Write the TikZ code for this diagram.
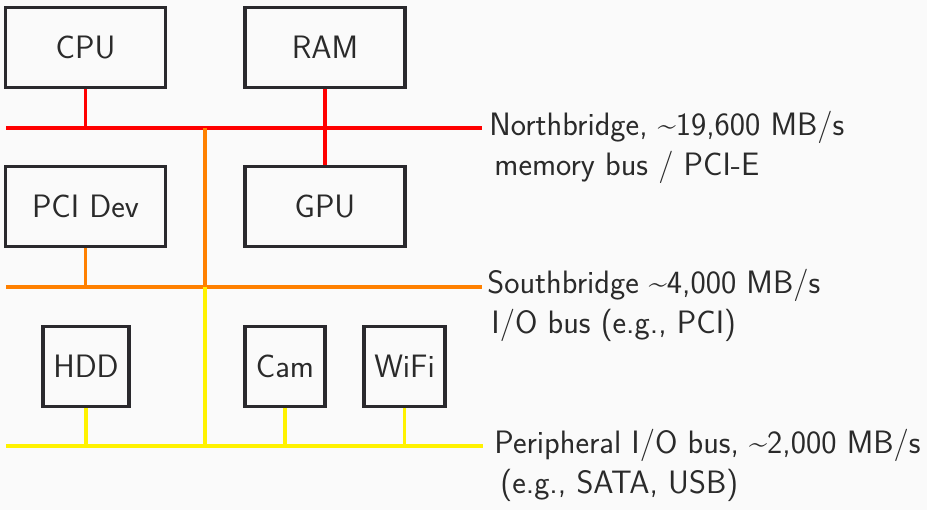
\documentclass[tikz,border=0pt]{standalone}
\usepackage{fix-cm}
\usepackage{tikz}
\definecolor{bgcol}{RGB}{250,250,250}
\definecolor{boxcol}{RGB}{42,41,45}
\definecolor{txtcol}{RGB}{42,42,42}
\definecolor{nbcol}{RGB}{255,0,0}
\definecolor{sbcol}{RGB}{255,128,0}
\definecolor{iocol}{RGB}{255,242,0}
\tikzset{
  hwbox/.style={draw=boxcol,line width=1.75pt,text=txtcol,inner sep=0pt},
  buslabel/.style={anchor=base west,inner sep=0pt,align=left,text=txtcol},
  bus/.style={line width=1.65pt}
}

\begin{document}
\begin{tikzpicture}[x=0.5pt,y=-0.5pt,font=\fontsize{16.2}{19.75}\selectfont\sffamily]
  \fill[bgcol] (0,0) rectangle (927,510);
  \useasboundingbox (0,0) rectangle (927,510);
  % devices
  \node[hwbox,minimum width=80pt,minimum height=40pt] (cpu) at (85.5,47.5) {CPU};
  \node[hwbox,minimum width=80pt,minimum height=40pt] (ram) at (325,47.5) {RAM};
  \node[hwbox,minimum width=80pt,minimum height=40pt] (pcidev) at (85.5,206.5) {PCI Dev};
  \node[hwbox,minimum width=80pt,minimum height=40pt] (gpu) at (325,206.5) {GPU};
  \node[hwbox,minimum width=43pt,minimum height=40pt] (hdd) at (86,366.5) {HDD};
  \node[hwbox,minimum width=40pt,minimum height=40pt] (cam) at (285,366.5) {Cam};
  \node[hwbox,minimum width=40.5pt,minimum height=40pt] (wifi) at (404.5,366.5) {WiFi};
  % bus ends
  \coordinate (nbw) at (6,128);
  \coordinate (nbe) at (482,128);
  \coordinate (sbw) at (6,287);
  \coordinate (sbe) at (482,287);
  \coordinate (iow) at (6,446);
  \coordinate (ioe) at (483,446);
  \coordinate (bridge) at (205,128);
  % buses
  \draw[bus,nbcol] (nbw) -- (nbe);
  \draw[bus,sbcol] (sbw) -- (sbe);
  \draw[bus,iocol] (iow) -- (ioe);
  \draw[bus,sbcol] (bridge) -- (bridge |- sbw);
  \draw[bus,iocol] (bridge |- sbw) -- (bridge |- iow);
  % taps
  \draw[bus,nbcol] (cpu.south) -- (cpu.south |- nbw);
  \draw[bus,nbcol] (ram.south) -- (gpu.north);
  \draw[bus,sbcol] (pcidev.south) -- (pcidev.south |- sbw);
  \draw[bus,iocol] (hdd.south) -- (hdd.south |- iow);
  \draw[bus,iocol] (cam.south) -- (cam.south |- iow);
  \draw[bus,iocol] (wifi.south) -- (wifi.south |- iow);
  % labels
  \node[buslabel] (nblabel) at (489,175) {Northbridge, \textasciitilde19,600 MB/s\\\hspace{2.5pt}memory bus / PCI-E};
  \node[buslabel] (sblabel) at (487,333) {Southbridge \textasciitilde4,000 MB/s\\\hspace{2pt}I/O bus (e.g., PCI)};
  \node[buslabel] (iolabel) at (494,493) {Peripheral I/O bus, \textasciitilde2,000 MB/s\\\hspace{3pt}(e.g., SATA, USB)};
\end{tikzpicture}
\end{document}
